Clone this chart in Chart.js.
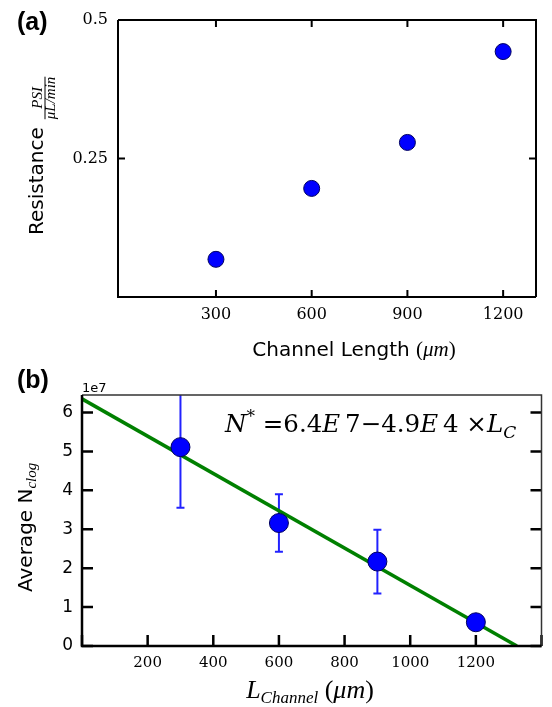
<!DOCTYPE html>
<html>
<head>
<meta charset="utf-8">
<script src="https://cdn.jsdelivr.net/npm/chart.js@4.4.1/dist/chart.umd.min.js"></script>
<style>
  html, body { margin: 0; padding: 0; background: #fff; }
  #wrap { position: relative; width: 552px; height: 707px; }
  canvas { position: absolute; left: 0; }
  #chartA { top: 0; }
  #chartB { top: 360px; }
</style>
</head>
<body>
<div id="wrap">
  <canvas id="chartA" width="552" height="360"></canvas>
  <canvas id="chartB" width="552" height="347"></canvas>
</div>
<script>
// (a) resistance vs channel length
const lengthA = [300, 600, 900, 1200];
const resistance = [0.068, 0.196, 0.279, 0.443];
const xTicksA = [300, 600, 900, 1200];
const yTicksA = [0.25, 0.5];

// (b) average clog count vs channel length, with error bars and fit line
const lengthB = [300, 600, 900, 1200];
const clogMean = [5.11e7, 3.16e7, 2.17e7, 0.61e7];
const clogErr = [1.56e7, 0.74e7, 0.82e7, 0.1e7];
const fitX = [0, 1325];
const fitY = [6.35e7, 0];
const xTicksB = [0, 200, 400, 600, 800, 1000, 1200, 1400];
const yTicksB = [0, 1e7, 2e7, 3e7, 4e7, 5e7, 6e7];

const SANS = 'DejaVu Sans';
const SERIF = 'Liberation Serif';
const MATH = 'DejaVu Serif';

// draw a row of text pieces [text, font, dy], returns total width
function drawRuns(ctx, parts, x, y, measureOnly) {
  let cx = x;
  parts.forEach(([t, f, dy]) => {
    ctx.font = f;
    if (!measureOnly) ctx.fillText(t, cx, y + (dy || 0));
    cx += ctx.measureText(t).width;
  });
  return cx - x;
}

function frame(chart, c) {
  const { ctx, chartArea: a, scales: { x, y } } = chart;
  ctx.save();
  ctx.strokeStyle = '#000';
  ctx.lineWidth = c.tickWidth;
  ctx.beginPath();
  x.ticks.forEach(t => {
    const px = x.getPixelForValue(t.value);
    ctx.moveTo(px, a.bottom); ctx.lineTo(px, a.bottom - c.tickLen);
    if (c.topTicks) { ctx.moveTo(px, a.top); ctx.lineTo(px, a.top + c.tickLen); }
  });
  y.ticks.forEach(t => {
    const py = y.getPixelForValue(t.value);
    ctx.moveTo(a.left, py); ctx.lineTo(a.left + c.tickLen, py);
    ctx.moveTo(a.right, py); ctx.lineTo(a.right - c.tickLen, py);
  });
  ctx.stroke();
  // spines
  ctx.lineWidth = c.thin;
  ctx.strokeStyle = c.thinColor;
  ctx.beginPath();
  ctx.moveTo(a.left, a.top); ctx.lineTo(a.right, a.top); ctx.lineTo(a.right, a.bottom);
  ctx.stroke();
  ctx.lineWidth = c.thick;
  ctx.strokeStyle = '#000';
  ctx.beginPath();
  ctx.moveTo(a.left, a.top); ctx.lineTo(a.left, a.bottom); ctx.lineTo(a.right, a.bottom);
  ctx.stroke();
  ctx.restore();
}

const it = (s, fam) => 'italic ' + s + 'px "' + (fam || SERIF) + '"';
const rm = (s, fam) => s + 'px "' + (fam || SERIF) + '"';

const decoA = {
  id: 'decoA',
  afterDraw(chart) {
    const ctx = chart.ctx;
    frame(chart, { tickLen: 7, tickWidth: 2, topTicks: true, thin: 2, thinColor: '#000', thick: 2 });
    ctx.save();
    ctx.fillStyle = '#000';
    ctx.textBaseline = 'alphabetic';
    // panel letter
    ctx.font = 'bold 25px "Liberation Sans"';
    ctx.fillText('(a)', 17, 30);
    // x title
    const xt = [
      ['Channel Length ', '20px "' + SANS + '"', 0],
      ['(', rm(21), 0],
      ['\u03bcm', it(21), 0],
      [')', rm(21), 0]
    ];
    const w = drawRuns(ctx, xt, 0, 0, true);
    drawRuns(ctx, xt, 354 - w / 2, 356);
    // y title, rotated
    ctx.translate(43, 235);
    ctx.rotate(-Math.PI / 2);
    ctx.font = '20px "' + SANS + '"';
    ctx.fillText('Resistance', 0, 0);
    const rw = ctx.measureText('Resistance').width;
    ctx.font = it(15);
    const num = 'PSI', den = '\u03bcL/min';
    const nw = ctx.measureText(num).width, dw = ctx.measureText(den).width;
    const fw = Math.max(nw, dw);
    const fx = rw + 8;
    ctx.fillText(num, fx + (fw - nw) / 2, -1);
    ctx.fillText(den, fx + (fw - dw) / 2, 12);
    ctx.fillRect(fx, 1.5, fw, 1);
    ctx.restore();
  }
};

function formulaParts(S) {
  const sub = Math.round(S * 0.7);
  return [
    ['N', it(S, MATH), 0], ['*', rm(sub, MATH), -S * 0.4], [' =6.4', rm(S, MATH), 0], ['E', it(S, MATH), 0],
    ['\u20097\u22124.9', rm(S, MATH), 0], ['E', it(S, MATH), 0], ['\u20094 \u00d7', rm(S, MATH), 0],
    ['L', it(S, MATH), 0], ['C', it(sub, MATH), S * 0.25]
  ];
}

const decoB = {
  id: 'decoB',
  beforeDatasetsDraw(chart) {
    const { ctx, chartArea: a, scales: { x, y } } = chart;
    ctx.save();
    ctx.beginPath();
    ctx.rect(a.left, a.top, a.right - a.left, a.bottom - a.top);
    ctx.clip();
    ctx.strokeStyle = '#2222ff';
    ctx.lineWidth = 2;
    ctx.beginPath();
    lengthB.forEach((v, i) => {
      const px = x.getPixelForValue(v);
      const top = y.getPixelForValue(clogMean[i] + clogErr[i]);
      const bot = y.getPixelForValue(clogMean[i] - clogErr[i]);
      ctx.moveTo(px, top); ctx.lineTo(px, bot);
      ctx.moveTo(px - 4, top); ctx.lineTo(px + 4, top);
      ctx.moveTo(px - 4, bot); ctx.lineTo(px + 4, bot);
    });
    ctx.stroke();
    ctx.restore();
  },
  afterDraw(chart) {
    const ctx = chart.ctx;
    frame(chart, { tickLen: 11, tickWidth: 2.5, topTicks: false, thin: 1.5, thinColor: '#333', thick: 2.5 });
    ctx.save();
    ctx.fillStyle = '#000';
    ctx.textBaseline = 'alphabetic';
    ctx.font = 'bold 25px "Liberation Sans"';
    ctx.fillText('(b)', 17, 28);
    ctx.font = '13px "' + SANS + '"';
    ctx.fillText('1e7', 82, 32);
    // fit equation, sized to span the same width as the original
    const w0 = drawRuns(ctx, formulaParts(22), 0, 0, true);
    const S = Math.min(26, 22 * 291 / w0);
    drawRuns(ctx, formulaParts(S), 225, 72);
    // x title
    const xt = [
      ['L', it(26), 0], ['Channel', it(17), 5], [' (', rm(26), 0],
      ['\u03bcm', it(26), 0], [')', rm(26), 0]
    ];
    const w = drawRuns(ctx, xt, 0, 0, true);
    drawRuns(ctx, xt, 310 - w / 2, 338);
    // y title, rotated
    ctx.translate(32, 232);
    ctx.rotate(-Math.PI / 2);
    drawRuns(ctx, [['Average N', '20px "' + SANS + '"', 0], ['clog', it(15), 4]], 0, 0);
    ctx.restore();
  }
};

const tickFont = size => ({ family: MATH, size: size });

new Chart(document.getElementById('chartA'), {
  type: 'scatter',
  data: {
    datasets: [{
      data: lengthA.map((v, i) => ({ x: v, y: resistance[i] })),
      pointRadius: 8,
      backgroundColor: '#0000ff',
      borderColor: '#000060',
      borderWidth: 1
    }]
  },
  options: {
    responsive: false,
    animation: false,
    devicePixelRatio: 1,
    layout: { padding: { top: 20, right: 16, left: 0, bottom: 0 } },
    plugins: { legend: { display: false }, tooltip: { enabled: false } },
    scales: {
      x: {
        type: 'linear', min: -7, max: 1303,
        afterBuildTicks: s => { s.ticks = xTicksA.map(v => ({ value: v })); },
        afterFit: s => { s.height = 63; },
        grid: { display: false, drawTicks: false },
        border: { display: false },
        ticks: { padding: 8, font: tickFont(16), color: '#000', autoSkip: false, maxRotation: 0, callback: v => String(v) }
      },
      y: {
        type: 'linear', min: 0, max: 0.5,
        afterBuildTicks: s => { s.ticks = yTicksA.map(v => ({ value: v })); },
        afterFit: s => { s.width = 118; },
        grid: { display: false, drawTicks: false },
        border: { display: false },
        ticks: { padding: 10, font: tickFont(16), color: '#000', autoSkip: false, callback: v => String(v) }
      }
    }
  },
  plugins: [decoA]
});

new Chart(document.getElementById('chartB'), {
  type: 'scatter',
  data: {
    datasets: [{
      data: lengthB.map((v, i) => ({ x: v, y: clogMean[i] })),
      pointRadius: 9.5,
      backgroundColor: '#0000ff',
      borderColor: '#000060',
      borderWidth: 1,
      order: 0
    }, {
      data: fitX.map((v, i) => ({ x: v, y: fitY[i] })),
      showLine: true,
      pointRadius: 0,
      borderColor: '#008000',
      borderWidth: 3.5,
      order: 1
    }]
  },
  options: {
    responsive: false,
    animation: false,
    devicePixelRatio: 1,
    layout: { padding: { top: 35, right: 10, left: 0, bottom: 0 } },
    plugins: { legend: { display: false }, tooltip: { enabled: false } },
    scales: {
      x: {
        type: 'linear', min: 0, max: 1400,
        afterBuildTicks: s => { s.ticks = xTicksB.map(v => ({ value: v })); },
        afterFit: s => { s.height = 61; },
        grid: { display: false, drawTicks: false },
        border: { display: false },
        ticks: { padding: 8, font: tickFont(15), color: '#000', autoSkip: false, maxRotation: 0,
          callback: v => (v === 0 || v === 1400) ? '' : String(v) }
      },
      y: {
        type: 'linear', min: 0, max: 6.45e7,
        afterBuildTicks: s => { s.ticks = yTicksB.map(v => ({ value: v })); },
        afterFit: s => { s.width = 82; },
        grid: { display: false, drawTicks: false },
        border: { display: false },
        ticks: { padding: 9, font: { family: SANS, size: 17 }, color: '#000', autoSkip: false,
          callback: v => String(Math.round(v / 1e7)) }
      }
    }
  },
  plugins: [decoB]
});
</script>
</body>
</html>
